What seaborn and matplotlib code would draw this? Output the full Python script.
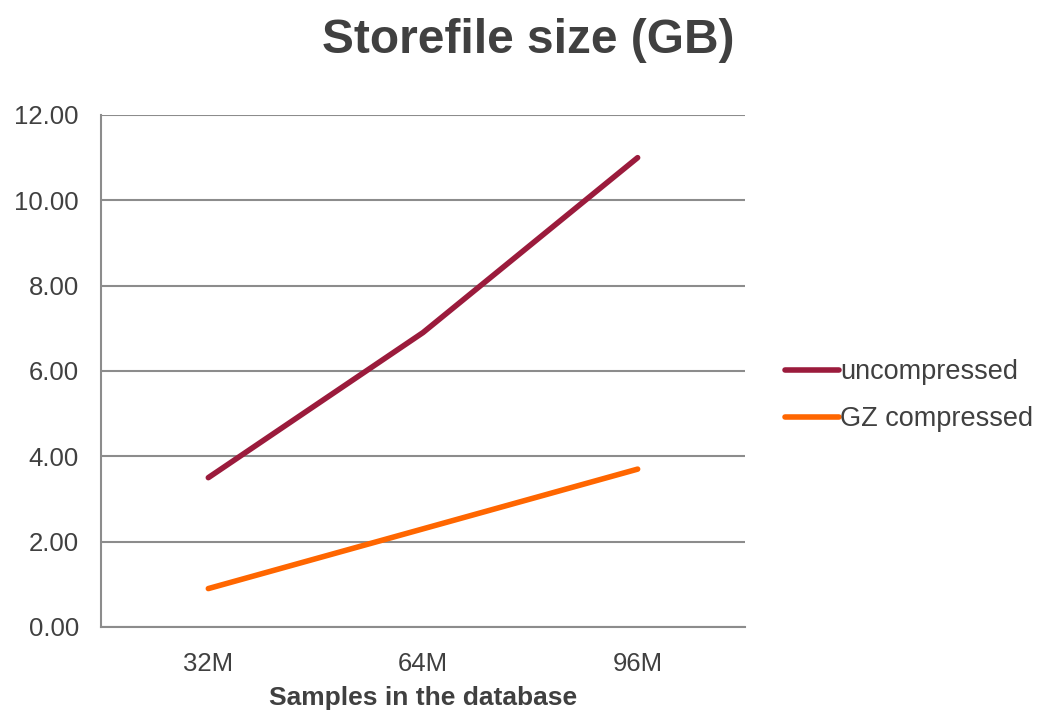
import pandas as pd
import matplotlib.pyplot as plt
import seaborn as sns
from matplotlib.ticker import FixedLocator

# data
samples = ["32M", "64M", "96M"]
uncompressed = [3.5, 6.9, 11.0]
gz_compressed = [0.9, 2.3, 3.7]

df = pd.DataFrame({
    "Samples": samples * 2,
    "pos": [0, 1, 2] * 2,
    "size": uncompressed + gz_compressed,
    "series": ["uncompressed"] * 3 + ["GZ compressed"] * 3,
})

sns.set_style("white")
plt.rcParams['font.family'] = ['Liberation Sans', 'DejaVu Sans']
text_col = "#404040"
grid_col = "#8c8c8c"

fig = plt.figure(figsize=(10.39, 7.12), dpi=100)
ax = fig.add_axes([0.0972, 0.1194, 0.6198, 0.7191])

sns.lineplot(data=df, x="pos", y="size", hue="series",
             palette={"uncompressed": "#9b1b3c", "GZ compressed": "#ff6600"},
             linewidth=4, ax=ax, solid_capstyle="round", legend=True)

ax.set_xlim(-0.5, 2.5)
ax.set_ylim(0, 12)
ax.set_yticks([0, 2, 4, 6, 8, 10, 12])
ax.set_yticklabels([f"{v:.2f}" for v in ax.get_yticks()], fontsize=18.5, color=text_col)
ax.set_xticks([0, 1, 2])
ax.set_xticklabels(samples, fontsize=18.5, color=text_col)
ax.xaxis.set_minor_locator(FixedLocator([-0.5, 0.5, 1.5, 2.5]))
ax.tick_params(axis="x", which="major", length=0, pad=18)
ax.tick_params(axis="x", which="minor", length=6, width=1.5, color=grid_col, direction="out")
ax.tick_params(axis="y", length=7, width=1.5, color=grid_col, direction="out", pad=9)
ax.yaxis.grid(True, color=grid_col, linewidth=1.5)
ax.set_axisbelow(True)
for s in ["top", "right"]:
    ax.spines[s].set_visible(False)
for s in ["left", "bottom"]:
    ax.spines[s].set_color(grid_col)
    ax.spines[s].set_linewidth(1.5)

ax.set_xlabel("Samples in the database", fontsize=19, fontweight="bold", color=text_col, labelpad=7)
ax.set_ylabel("")
fig.suptitle("Storefile size (GB)", fontsize=34.5, fontweight="bold", color=text_col, x=0.508, y=0.975)

leg = ax.legend(title=None, frameon=False, fontsize=19.5, loc="center left",
                bbox_to_anchor=(1.062, 0.452), borderaxespad=0, borderpad=0,
                handlelength=2.0, handletextpad=0.05, labelspacing=0.78)
for t in leg.get_texts():
    t.set_color(text_col)
for h in leg.get_lines():
    h.set_linewidth(4)
    h.set_solid_capstyle("round")

fig.savefig("out.png", dpi=100)
